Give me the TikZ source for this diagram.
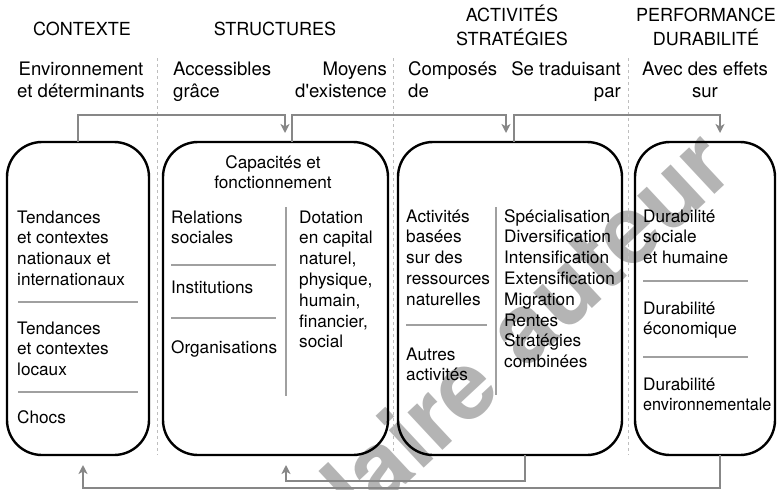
\documentclass[tikz,border=0pt]{standalone}
\usepackage{fontspec}
\setmainfont{TeX Gyre Heros}
\usetikzlibrary{arrows.meta}
\definecolor{conncol}{RGB}{135,135,135}
\definecolor{sepcol}{RGB}{160,160,160}
\definecolor{dashcol}{RGB}{190,190,190}
\definecolor{wmcol}{RGB}{180,180,180}
\newcommand{\myBody}{\fontsize{17.2}{20.8}\selectfont}
\newcommand{\mySub}{\fontsize{18.6}{22}\selectfont}
\newcommand{\myHead}{\fontsize{18}{23.3}\selectfont}
\newcommand{\blk}[3][\myBody]{{#1\begin{tabular}[t]{@{}#2@{}}#3\end{tabular}}}
\begin{document}
\begin{tikzpicture}[x=1pt,y=-1pt,
  box/.style={draw=black, line width=2.4pt, rounded corners=35pt, minimum height=313pt, inner sep=0pt},
  txt/.style={anchor=base west, inner sep=0pt},
  txtc/.style={anchor=base, inner sep=0pt},
  txtr/.style={anchor=base east, inner sep=0pt},
  sepline/.style={draw=sepcol, line width=2pt},
  dsep/.style={draw=dashcol, line width=0.9pt, dash pattern=on 3pt off 3pt},
  conn/.style={draw=conncol, line width=2.6pt, -{Stealth[length=9pt,width=9pt,inset=2.5pt]}},
  wm/.style={text=wmcol, rotate=43, anchor=base east, inner sep=0pt, font=\fontsize{95}{95}\selectfont\bfseries}
]
\useasboundingbox (0,0) rectangle (777,490);

% watermark
\node[wm] (wm1) at (504.5,393) {exemplaire};
\node[wm] (wm2) at (737.7,172.8) {auteur};

% dashed column separators
\coordinate (d1t) at (157,58); \coordinate (d1b) at (157,455);
\coordinate (d2t) at (393,58); \coordinate (d2b) at (393,455);
\coordinate (d3t) at (628,58); \coordinate (d3b) at (628,455);
\draw[dsep] (d1t) -- (d1b);
\draw[dsep] (d2t) -- (d2b);
\draw[dsep] (d3t) -- (d3b);

% headers
\node[txtc] (h1) at (82,35) {\myHead CONTEXTE};
\node[txtc] (h2) at (275,35) {\myHead STRUCTURES};
\node[txtc] (h3) at (512,21.7) {\blk[\myHead]{c}{ACTIVITÉS\\STRATÉGIES}};
\node[txtc] (h4) at (706,21.7) {\blk[\myHead]{c}{PERFORMANCE\\DURABILITÉ}};

% sub headers
\node[txtc] (sh1) at (81,75) {\blk[\mySub]{c}{Environnement\\et déterminants}};
\node[txt] (sh2) at (173,75) {\blk[\mySub]{l}{Accessibles\\grâce}};
\node[txtr] (sh3) at (387,75) {\blk[\mySub]{r}{Moyens\\d\textquotesingle existence}};
\node[txt] (sh4) at (408,75) {\blk[\mySub]{l}{Composés\\de}};
\node[txtr] (sh5) at (621,75) {\blk[\mySub]{r}{Se traduisant\\par}};
\node[txtc] (sh6) at (705,75) {\blk[\mySub]{c}{Avec des effets\\sur}};

% boxes
\node[box, minimum width=142pt] (ctx) at (78,298.5) {};
\node[box, minimum width=225pt] (str) at (275.5,298.5) {};
\node[box, minimum width=224pt] (act) at (510,298.5) {};
\node[box, minimum width=140pt] (perf) at (705,298.5) {};

% box 1
\node[txt] (c1) at (17,223) {\blk{l}{Tendances\\et contextes\\nationaux et\\internationaux}};
\draw[sepline] (18,302) -- (138,302);
\node[txt] (c2) at (17,334) {\blk{l}{Tendances\\et contextes\\locaux}};
\draw[sepline] (18,392) -- (138,392);
\node[txt] (c3) at (17,423) {\blk{l}{Chocs}};

% box 2
\node[txtc] (s0) at (273,168) {\blk{c}{Capacités et\\fonctionnement}};
\node[txt] (s1) at (171,223) {\blk{l}{Relations\\sociales}};
\draw[sepline] (171,265) -- (276,265);
\node[txt] (s2) at (171,293) {\blk{l}{Institutions}};
\draw[sepline] (171,318) -- (276,318);
\node[txt] (s3) at (171,353) {\blk{l}{Organisations}};
\draw[sepline] (286,207) -- (286,396);
\node[txt] (s4) at (299,223) {\blk{l}{Dotation\\en capital\\naturel,\\physique,\\humain,\\financier,\\social}};

% box 3
\node[txt] (a1) at (406,222) {\blk{l}{Activités\\basées\\sur des\\ressources\\naturelles}};
\draw[sepline] (406,325) -- (487,325);
\node[txt] (a2) at (406,360) {\blk{l}{Autres\\activités}};
\draw[sepline] (496,207) -- (496,395);
\node[txt] (a3) at (504,222) {\blk{l}{Spécialisation\\Diversification\\Intensification\\Extensification\\Migration\\Rentes\\Stratégies\\combinées}};

% box 4
\node[txt] (p1) at (643,222) {\blk{l}{Durabilité\\sociale\\et humaine}};
\draw[sepline] (643,281) -- (748,281);
\node[txt] (p2) at (643,314) {\blk{l}{Durabilité\\économique}};
\draw[sepline] (643,357) -- (748,357);
\node[txt] (p3) at (643,390) {\blk{l}{Durabilité\\\scalebox{0.94}[1]{environnementale}}};

% connectors
\coordinate (a1s) at (78,142);  \coordinate (a1e) at (285,133);
\coordinate (a2s) at (292,142); \coordinate (a2e) at (506,133);
\coordinate (a3s) at (514,142); \coordinate (a3e) at (720,133);
\coordinate (b1s) at (720,455); \coordinate (b1e) at (83,465);
\coordinate (b2s) at (525,455); \coordinate (b2e) at (286,465);
\draw[conn] (a1s) -- ++(0,-27) -| (a1e);
\draw[conn] (a2s) -- ++(0,-27) -| (a2e);
\draw[conn] (a3s) -- ++(0,-27) -| (a3e);
\draw[conn] (b1s) -- ++(0,33) -| (b1e);
\draw[conn] (b2s) -- ++(0,26) -| (b2e);
\end{tikzpicture}
\end{document}
